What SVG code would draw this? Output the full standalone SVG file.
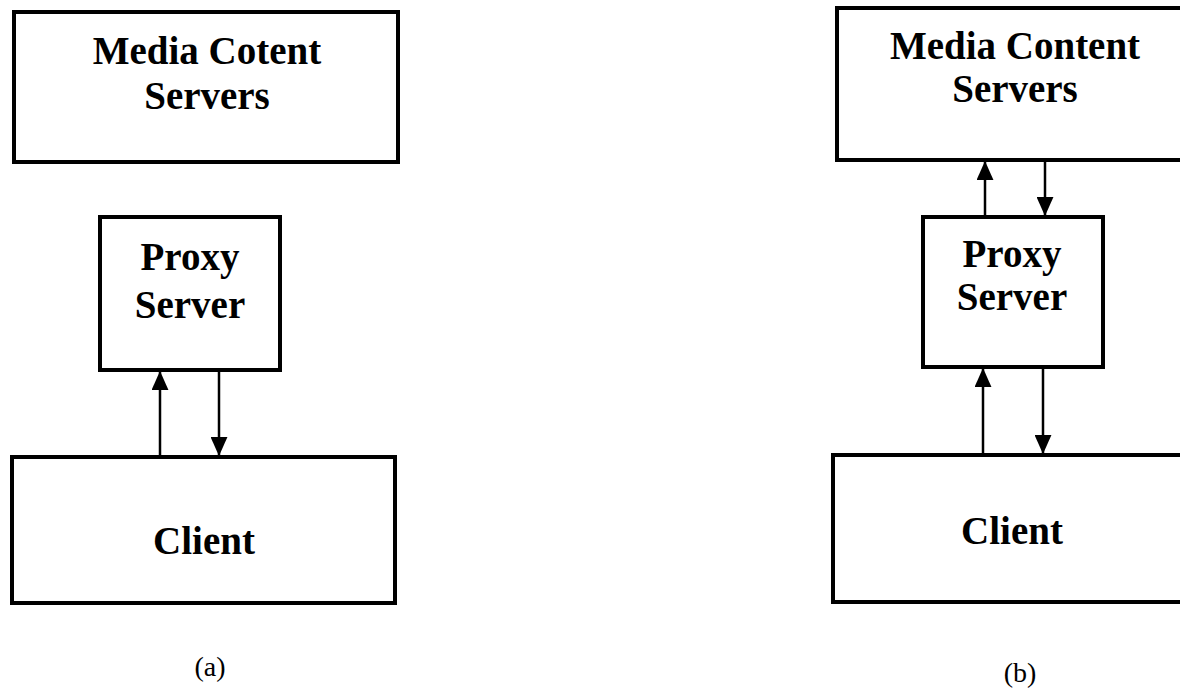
<svg xmlns="http://www.w3.org/2000/svg" width="1180" height="690" viewBox="0 0 1180 690">
<style>
.box{fill:#fff;stroke:#000;stroke-width:4}
.lbl{font-family:'Liberation Serif','Times New Roman',Times,serif;font-weight:700;font-size:39px;fill:#000;text-anchor:middle}
.cap{font-family:'Liberation Serif','Times New Roman',Times,serif;font-size:28px;fill:#000;text-anchor:middle}
.ln{stroke:#000;stroke-width:2.5;fill:none}
</style>
<defs>
<marker id="a2" viewBox="0 0 18 16" refX="18" refY="8" markerWidth="19" markerHeight="17" orient="auto" markerUnits="userSpaceOnUse">
<path d="M0,0 L18,8 L0,16 Z" fill="#000"/>
</marker>
</defs>
<rect width="1180" height="690" fill="#fff"/>
<g id="connectors">
<line class="ln" x1="160" y1="457" x2="160" y2="371" marker-end="url(#a2)"/>
<line class="ln" x1="219" y1="370" x2="219" y2="456" marker-end="url(#a2)"/>
<line class="ln" x1="985" y1="217" x2="985" y2="161" marker-end="url(#a2)"/>
<line class="ln" x1="1045" y1="160" x2="1045" y2="216" marker-end="url(#a2)"/>
<line class="ln" x1="983" y1="455" x2="983" y2="368" marker-end="url(#a2)"/>
<line class="ln" x1="1043" y1="367" x2="1043" y2="454" marker-end="url(#a2)"/>
</g>
<g id="a-mcs">
<rect class="box" x="14" y="12" width="384" height="150"/>
<text class="lbl" x="207" y="64">Media Cotent</text>
<text class="lbl" x="207" y="109">Servers</text>
</g>
<g id="a-proxy">
<rect class="box" x="100" y="217" width="180" height="153"/>
<text class="lbl" x="190" y="270">Proxy</text>
<text class="lbl" x="190" y="318">Server</text>
</g>
<g id="a-client">
<rect class="box" x="12" y="457" width="383" height="146"/>
<text class="lbl" x="204" y="554">Client</text>
</g>
<g id="b-mcs">
<rect class="box" x="837" y="8" width="360" height="152"/>
<text class="lbl" x="1015" y="59">Media Content</text>
<text class="lbl" x="1015" y="102">Servers</text>
</g>
<g id="b-proxy">
<rect class="box" x="923" y="217" width="180" height="150"/>
<text class="lbl" x="1012" y="267">Proxy</text>
<text class="lbl" x="1012" y="310">Server</text>
</g>
<g id="b-client">
<rect class="box" x="833" y="455" width="360" height="147"/>
<text class="lbl" x="1012" y="544">Client</text>
</g>
<text class="cap" x="210" y="676">(a)</text>
<text class="cap" x="1020" y="682">(b)</text>
</svg>
